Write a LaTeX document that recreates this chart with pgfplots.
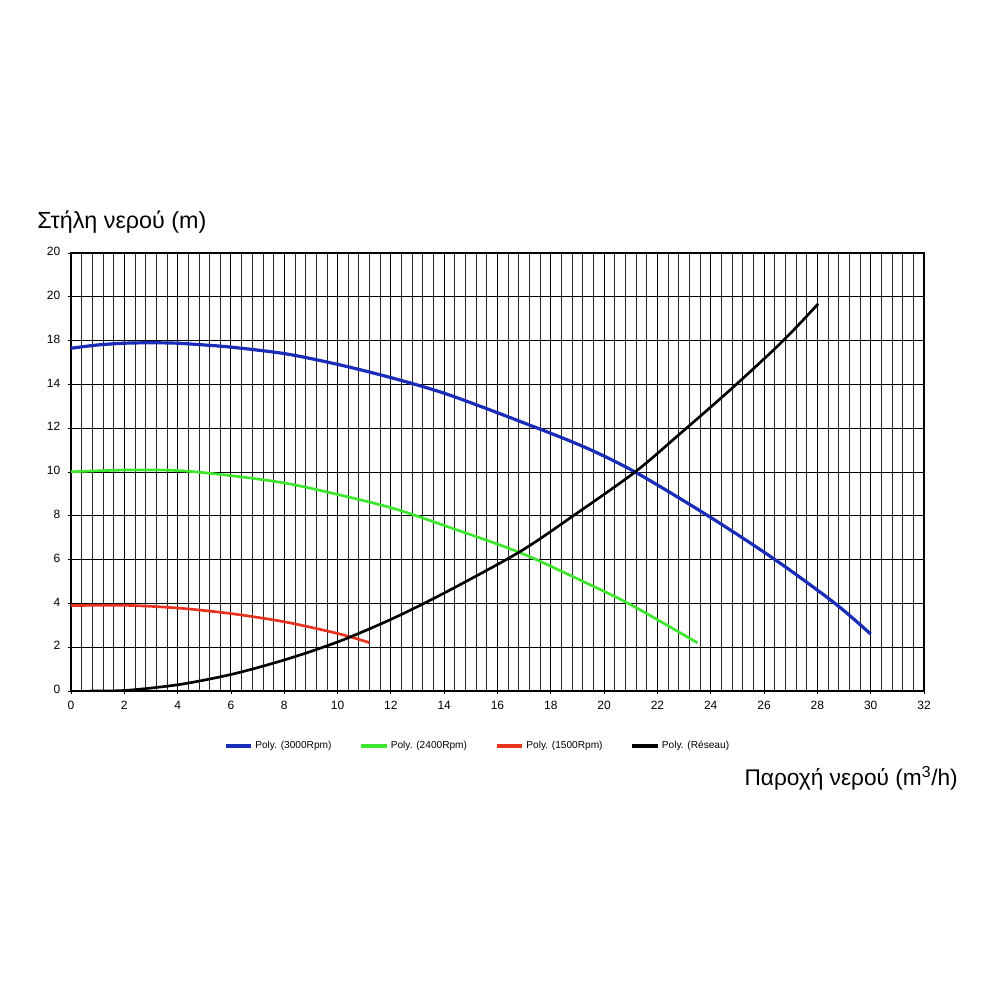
\documentclass[border=0pt]{standalone}
\usepackage{pgfplots}
\pgfplotsset{compat=1.18}
\usepackage{fontspec}
\setmainfont{Liberation Sans}
\definecolor{cblue}{RGB}{25,45,185}
\definecolor{cgreen}{RGB}{60,230,45}
\definecolor{cred}{RGB}{232,50,30}
\begin{document}
\begin{tikzpicture}[x=1pt,y=1pt]
\path[use as bounding box] (0,0) rectangle (750,750);
\begin{axis}[
  at={(53.25pt,231.75pt)}, anchor=south west,
  scale only axis, width=639.75pt, height=328.5pt,
  xmin=0, xmax=32, ymin=0, ymax=20,
  xtick={0,2,...,32}, ytick={0,2,...,20},
  yticklabels={0,2,4,6,8,10,12,14,18,20,20},
  minor x tick num=4,
  grid=both,
  major grid style={black, line width=0.7pt},
  minor grid style={black!85, line width=0.6pt},
  axis line style={black, line width=0.8pt},
  tick pos=left,
  tick align=outside, major tick length=2.5pt, minor tick length=0pt,
  tick style={black, line width=0.6pt},
  /pgf/number format/assume math mode=true,
  typeset ticklabels with strut,
  ticklabel style={font=\fontsize{9}{10}\selectfont},
  xticklabel style={yshift=-1pt},
  yticklabel style={xshift=-2pt},
  legend columns=4,
  legend style={at={(0.477,-0.1256)}, anchor=center, draw=none, fill=none,
    font=\fontsize{7.6}{9}\selectfont, inner sep=0pt,
    /tikz/every even column/.append style={column sep=19pt}},
  legend image code/.code={\draw[#1, line width=2.5pt] (0pt,0pt) -- (19pt,0pt);},
]
\addplot[cblue, line width=2.4pt, smooth] coordinates {
(0.0,15.65) (1.0,15.8) (2.0,15.88) (3.0,15.9) (4.0,15.88) (5.0,15.8) (6.09,15.69) (8.09,15.39) (10.09,14.89) (12.09,14.28) (14.09,13.56) (16.72,12.37) (19.22,11.16) (21.16,10.0) (23.9,8.0) (26.41,6.0) (28.66,4.0) (30.0,2.6)};
\addlegendentry{Poly. (3000Rpm)}
\addplot[cgreen, line width=2pt, smooth] coordinates {
(0.0,10.01) (2.09,10.09) (4.09,10.06) (6.09,9.82) (8.09,9.48) (10.09,8.95) (12.09,8.34) (14.09,7.52) (16.84,6.32) (19.09,5.07) (20.97,3.96) (23.5,2.2)};
\addlegendentry{Poly. (2400Rpm)}
\addplot[cred, line width=2pt, smooth] coordinates {
(0.0,3.90) (2.09,3.91) (4.09,3.78) (6.09,3.52) (8.09,3.14) (10.09,2.60) (11.19,2.21)};
\addlegendentry{Poly. (1500Rpm)}
\addplot[black, line width=2pt, smooth] coordinates {
(0.71,0.0) (2.09,0.03) (4.09,0.30) (6.09,0.78) (8.09,1.45) (10.09,2.28) (12.09,3.32) (14.09,4.53) (16.84,6.36) (18.84,8.0) (21.16,10.0) (22.84,11.74) (24.84,13.87) (26.72,16.0) (28.03,17.68)};
\addlegendentry{Poly. (Réseau)}
\end{axis}
\node[anchor=west, inner sep=0pt, font=\fontsize{17.5}{20}\selectfont] at (27.75,583.5) {Στήλη νερού (m)};
\node[anchor=east, inner sep=0pt, font=\fontsize{17}{20}\selectfont] at (718.5,166.5) {Παροχή νερού (m\textsuperscript{3}/h)};
\end{tikzpicture}
\end{document}
